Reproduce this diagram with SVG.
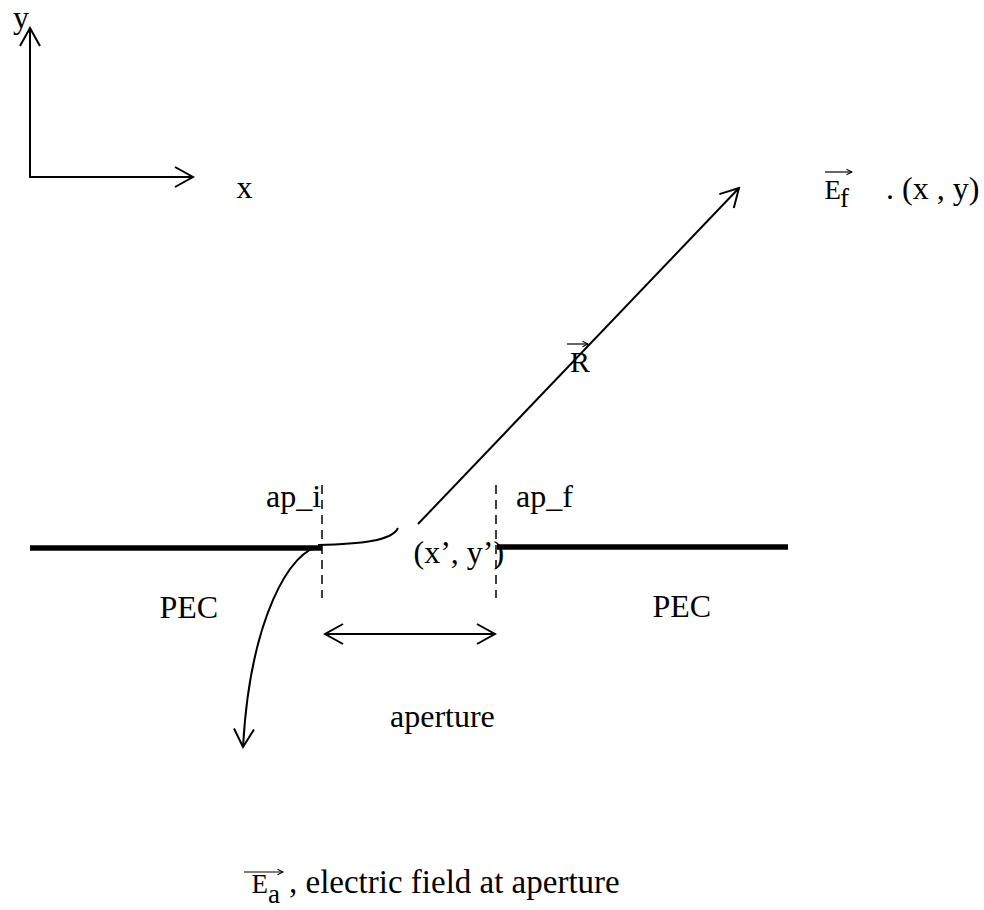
<svg xmlns="http://www.w3.org/2000/svg" width="984" height="910" viewBox="0 0 984 910">
  <style>
    text { font-family: "Liberation Serif", "Times New Roman", serif; fill: #000; }
    .t { font-size: 32px; }
    .v { font-size: 27px; }
    .ln { fill: none; stroke: #000; stroke-width: 2; }
    .pec { fill: none; stroke: #000; stroke-width: 5.5; }
    .dash { fill: none; stroke: #000; stroke-width: 1.5; stroke-dasharray: 9 6; }
    .vec { fill: none; stroke: #000; stroke-width: 1.2; }
  </style>
  <defs>
    <marker id="arr" viewBox="-22 -13 24 26" refX="0" refY="0" markerWidth="24" markerHeight="26" markerUnits="userSpaceOnUse" orient="auto-start-reverse">
      <path d="M -18 -10 L 0 0 L -18 10" fill="none" stroke="#000" stroke-width="2"/>
    </marker>
    <marker id="varr" viewBox="-7 -4 8 8" refX="0" refY="0" markerWidth="8" markerHeight="8" markerUnits="userSpaceOnUse" orient="auto">
      <path d="M -5.5 -2.8 L 0 0 L -5.5 2.8" fill="none" stroke="#000" stroke-width="1.1"/>
    </marker>
  </defs>

  <rect width="984" height="910" fill="#fff"/>

  <g id="axes">
    <line class="ln" x1="30" y1="177" x2="30" y2="28" marker-end="url(#arr)"/>
    <line class="ln" x1="29" y1="177" x2="193" y2="177" marker-end="url(#arr)"/>
    <text class="t" x="13" y="28">y</text>
    <text class="t" x="236.5" y="198">x</text>
  </g>

  <g id="pec-left">
    <line class="pec" x1="30" y1="548" x2="322" y2="548"/>
    <text class="t" x="159.5" y="618">PEC</text>
  </g>

  <g id="pec-right">
    <line class="pec" x1="497" y1="547" x2="788" y2="547"/>
    <text class="t" x="652.5" y="617">PEC</text>
  </g>

  <g id="ap-i">
    <line class="dash" x1="322" y1="485" x2="322" y2="598"/>
    <text class="t" x="266" y="507">ap_i</text>
  </g>

  <g id="ap-f">
    <line class="dash" x1="496" y1="485" x2="496" y2="598"/>
    <text class="t" x="516" y="507">ap_f</text>
  </g>

  <g id="source-point">
    <text class="t" x="413.5" y="563">(x’, y’)</text>
  </g>

  <g id="field-point">
    <line class="vec" x1="825" y1="172" x2="852" y2="172" marker-end="url(#varr)"/>
    <text class="v" x="824.5" y="199">E</text>
    <text class="v" x="840" y="207">f</text>
    <text class="t" x="886" y="199">. (x , y)</text>
  </g>

  <g id="r-label">
    <line class="vec" x1="567" y1="344" x2="588" y2="344" marker-end="url(#varr)"/>
    <text style="font-size:30px" x="570" y="372">R</text>
  </g>

  <g id="aperture-label">
    <text class="t" x="390" y="727">aperture</text>
  </g>

  <g id="ea-label">
    <line class="vec" x1="244" y1="872" x2="283" y2="872" marker-end="url(#varr)"/>
    <text class="v" x="251.5" y="893">E</text>
    <text class="v" x="268" y="903">a</text>
    <text style="font-size:33px" x="289" y="893">, electric field at aperture</text>
  </g>

  <g id="connectors">
    <line class="ln" x1="418" y1="524" x2="739" y2="188" marker-end="url(#arr)"/>
    <line class="ln" x1="325" y1="634" x2="495" y2="634" marker-start="url(#arr)" marker-end="url(#arr)"/>
    <path class="ln" d="M 318 545 C 360 544, 392 541, 398 528"/>
    <path class="ln" d="M 322 546 C 290 548, 250 620, 243 747" marker-end="url(#arr)"/>
  </g>
</svg>
